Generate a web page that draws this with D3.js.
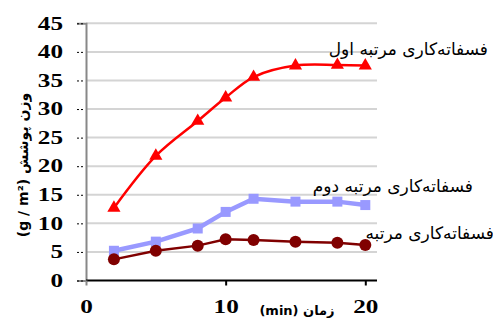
<!DOCTYPE html>
<html lang="fa">
<head>
<meta charset="UTF-8">
<title>وزن پوشش</title>
<script src="https://d3js.org/d3.v7.min.js"></script>
<style>
  body { margin: 0; background: #fff; }
  .series-label { font-family: "DejaVu Sans", sans-serif; font-size: 17px; }
  svg text.tk { font-family: "Liberation Serif", "DejaVu Serif", serif; font-weight: bold; font-size: 18px; }
</style>
</head>
<body>
<svg width="493" height="320"></svg>
<script>
const times = [2, 5, 8, 10, 12, 15, 18, 20];
const first = [12.7, 21.8, 27.9, 32.0, 35.6, 37.6, 37.7, 37.6];
const second = [5.2, 6.8, 9.1, 12.0, 14.3, 13.8, 13.8, 13.2];
const third = [3.7, 5.2, 6.1, 7.2, 7.1, 6.8, 6.6, 6.2];
const yTicks = [0, 5, 10, 15, 20, 25, 30, 35, 40, 45];
const xTicks = [0, 10, 20];
const names = ["فسفاته‌کاری مرتبه اول", "فسفاته‌کاری مرتبه دوم", "فسفاته‌کاری مرتبه"];

const svg = d3.select("svg");
const x = d3.scaleLinear().domain([0, 20]).range([86, 365.3]);
const y = d3.scaleLinear().domain([0, 45]).range([280.5, 23.3]);
const xEnd = 377;

// grid
svg.append("g").selectAll("line")
  .data(yTicks.filter(d => d > 0))
  .enter().append("line")
  .attr("x1", x(0)).attr("x2", xEnd)
  .attr("y1", d => y(d)).attr("y2", d => y(d))
  .attr("stroke", "#d4d4d4").attr("stroke-width", 2);

// y axis
const yAxis = svg.append("g").attr("transform", `translate(${x(0)},0)`)
  .call(d3.axisLeft(y).tickValues(yTicks).tickSize(9));
yAxis.attr("font-family", null).attr("font-size", null);
yAxis.select(".domain").attr("stroke", "#888").attr("stroke-width", 2);
yAxis.selectAll(".tick line").attr("stroke", "#000").attr("stroke-dasharray", "2,2").attr("x2", -3).attr("x1", -9);
yAxis.selectAll(".tick text").attr("class", "tk").attr("fill", "#000")
  .attr("x", 0).attr("text-anchor", "end")
  .attr("transform", "translate(-23,0) scale(1.4,1)");

// x axis
const xAxis = svg.append("g").attr("transform", `translate(0,${y(0)})`)
  .call(d3.axisBottom(x).tickValues(xTicks).tickSize(5).tickSizeOuter(0));
xAxis.attr("font-family", null).attr("font-size", null);
xAxis.select(".domain").attr("stroke", "#000").attr("stroke-width", 2)
  .attr("d", `M${x(0)},0H${xEnd}`);
xAxis.selectAll(".tick line").attr("stroke", "#000").attr("stroke-width", 2);
xAxis.selectAll(".tick text").attr("class", "tk").attr("fill", "#000")
  .attr("y", 0).attr("dy", 0)
  .attr("transform", "translate(0,32) scale(1.4,1)");
xAxis.select(".tick line").attr("stroke", "#888");

// axis titles
svg.append("text")
  .attr("transform", "translate(28,165) rotate(-90)")
  .attr("text-anchor", "middle").attr("direction", "rtl")
  .style("font-family", "DejaVu Sans, sans-serif").style("font-weight", "bold").style("font-size", "14px")
  .text("وزن پوشش (g / m²)");
svg.append("text")
  .attr("x", 297).attr("y", 315)
  .attr("text-anchor", "middle").attr("direction", "rtl")
  .style("font-family", "DejaVu Sans, sans-serif").style("font-weight", "bold").style("font-size", "13px")
  .text("زمان (min)");

const pts = vals => times.map((t, i) => [x(t), y(vals[i])]);

// series lines
svg.append("path").attr("d", d3.line().curve(d3.curveCatmullRom)(pts(first)))
  .attr("fill", "none").attr("stroke", "#ff0000").attr("stroke-width", 2.5);
svg.append("path").attr("d", d3.line()(pts(second)))
  .attr("fill", "none").attr("stroke", "#9999ff").attr("stroke-width", 4.5);
svg.append("path").attr("d", d3.line()(pts(third)))
  .attr("fill", "none").attr("stroke", "#800000").attr("stroke-width", 2.5);

// markers
svg.append("g").selectAll("path").data(pts(first)).enter().append("path")
  .attr("transform", d => `translate(${d[0]},${d[1]})`)
  .attr("d", d3.symbol().type(d3.symbolTriangle).size(75))
  .attr("fill", "#ff0000");
svg.append("g").selectAll("rect").data(pts(second)).enter().append("rect")
  .attr("x", d => d[0] - 5).attr("y", d => d[1] - 5)
  .attr("width", 10).attr("height", 10).attr("fill", "#9999ff");
svg.append("g").selectAll("circle").data(pts(third)).enter().append("circle")
  .attr("cx", d => d[0]).attr("cy", d => d[1]).attr("r", 6).attr("fill", "#800000");

// series labels
const labelPos = [[488, 55], [473, 192], [494, 239]];
svg.append("g").selectAll("text").data(names).enter().append("text")
  .attr("class", "series-label")
  .attr("x", (d, i) => labelPos[i][0]).attr("y", (d, i) => labelPos[i][1])
  .attr("direction", "rtl").attr("text-anchor", "start")
  .text(d => d);
</script>
</body>
</html>
